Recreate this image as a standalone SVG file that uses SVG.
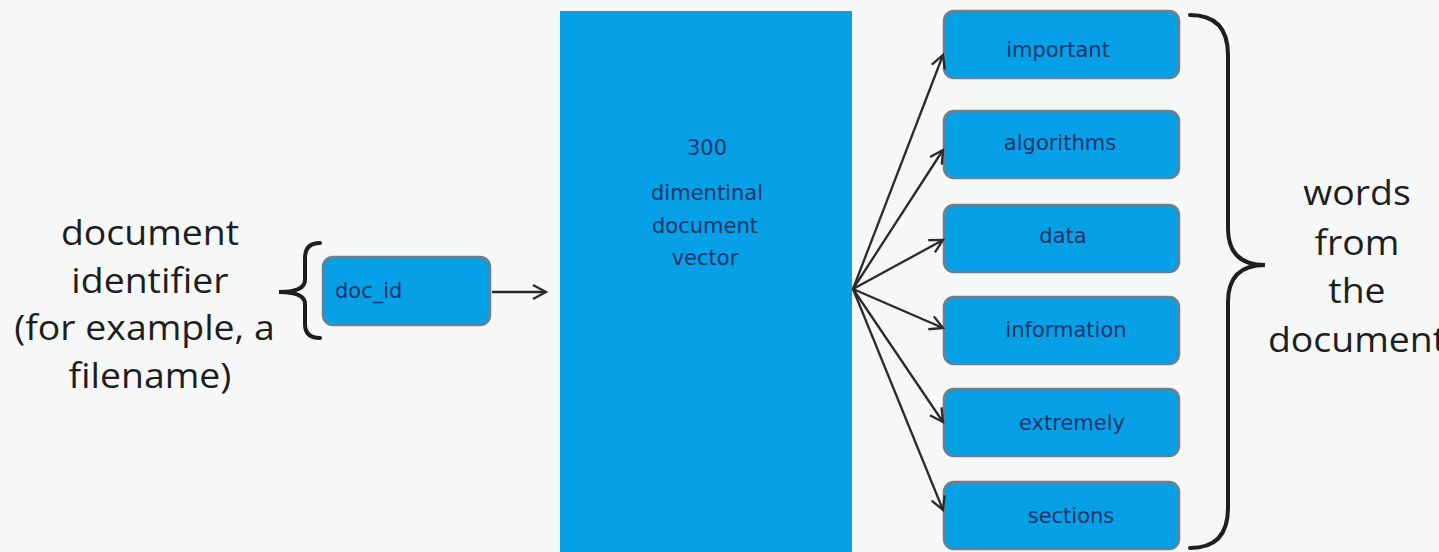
<svg xmlns="http://www.w3.org/2000/svg" width="1439" height="552" viewBox="0 0 1439 552">
<style>
.bg{fill:#f6f7f7}
.box{fill:#05a0e6;stroke:#6b7f8c;stroke-width:2.5}
.lbl{font-family:"DejaVu Sans",sans-serif;font-size:21px;fill:#17356c;text-anchor:middle}
.big{font-family:"Open Sans",sans-serif;font-size:34px;fill:#1e1e1e;text-anchor:middle}
.brace{fill:none;stroke:#1e1e1e;stroke-width:4;stroke-linecap:round}
.conn{fill:none;stroke:#2a2a2a;stroke-width:2.3}
</style>
<defs>
<marker id="ah" markerUnits="userSpaceOnUse" markerWidth="18" markerHeight="18" refX="14" refY="8" orient="auto">
<path d="M1,1 L14,8 L1,15" fill="none" stroke="#2a2a2a" stroke-width="2.3"/>
</marker>
</defs>
<rect class="bg" x="0" y="0" width="1439" height="552"/>

<g id="left-label" transform="translate(150,0) scale(1.1,1) translate(-150,0)">
<text class="big" x="150" y="245">document</text>
<text class="big" x="150" y="293">identifier</text>
<text class="big" x="145" y="340">(for example, a</text>
<text class="big" x="150" y="388">filename)</text>
</g>
<g id="left-brace">
<path class="brace" d="M320,243 Q305,243 305,258 L305,280 Q305,292 279,292 Q305,292 305,304 L305,324 Q305,338 320,338"/>
</g>
<g id="doc_id">
<rect class="box" x="323" y="257" width="167" height="68" rx="10"/>
<text class="lbl" x="335" y="298" style="text-anchor:start">doc_id</text>
</g>
<g id="vector">
<rect x="560" y="11" width="292" height="541" fill="#05a0e6"/>
<text class="lbl" x="707" y="155">300</text>
<text class="lbl" x="707" y="200">dimentinal</text>
<text class="lbl" x="705" y="233">document</text>
<text class="lbl" x="705" y="265">vector</text>
</g>
<g id="w-important">
<rect class="box" x="944" y="11" width="235" height="67" rx="10"/>
<text class="lbl" x="1058" y="57">important</text>
</g>
<g id="w-algorithms">
<rect class="box" x="944" y="111" width="235" height="67" rx="10"/>
<text class="lbl" x="1060" y="150">algorithms</text>
</g>
<g id="w-data">
<rect class="box" x="944" y="205" width="235" height="67" rx="10"/>
<text class="lbl" x="1063" y="243">data</text>
</g>
<g id="w-information">
<rect class="box" x="944" y="297" width="235" height="67" rx="10"/>
<text class="lbl" x="1066" y="337">information</text>
</g>
<g id="w-extremely">
<rect class="box" x="944" y="389" width="235" height="67" rx="10"/>
<text class="lbl" x="1072" y="430">extremely</text>
</g>
<g id="w-sections">
<rect class="box" x="944" y="482" width="235" height="67" rx="10"/>
<text class="lbl" x="1071" y="523">sections</text>
</g>
<g id="right-brace">
<path class="brace" d="M1190,15 Q1228,15 1228,55 L1228,228 Q1228,265 1265,265 Q1228,265 1228,302 L1228,508 Q1228,548 1190,548"/>
</g>
<g id="right-label" transform="translate(1357,0) scale(1.1,1) translate(-1357,0)">
<text class="big" x="1357" y="205">words</text>
<text class="big" x="1357" y="255">from</text>
<text class="big" x="1357" y="303">the</text>
<text class="big" x="1357" y="352">document</text>
</g>
<g id="connectors">
<line class="conn" x1="492" y1="292" x2="546" y2="292" marker-end="url(#ah)"/>
<line class="conn" x1="853" y1="289" x2="943" y2="55" marker-end="url(#ah)"/>
<line class="conn" x1="853" y1="289" x2="943" y2="150" marker-end="url(#ah)"/>
<line class="conn" x1="853" y1="289" x2="943" y2="240" marker-end="url(#ah)"/>
<line class="conn" x1="853" y1="289" x2="943" y2="328" marker-end="url(#ah)"/>
<line class="conn" x1="853" y1="289" x2="943" y2="422" marker-end="url(#ah)"/>
<line class="conn" x1="853" y1="289" x2="943" y2="510" marker-end="url(#ah)"/>
</g>
</svg>
